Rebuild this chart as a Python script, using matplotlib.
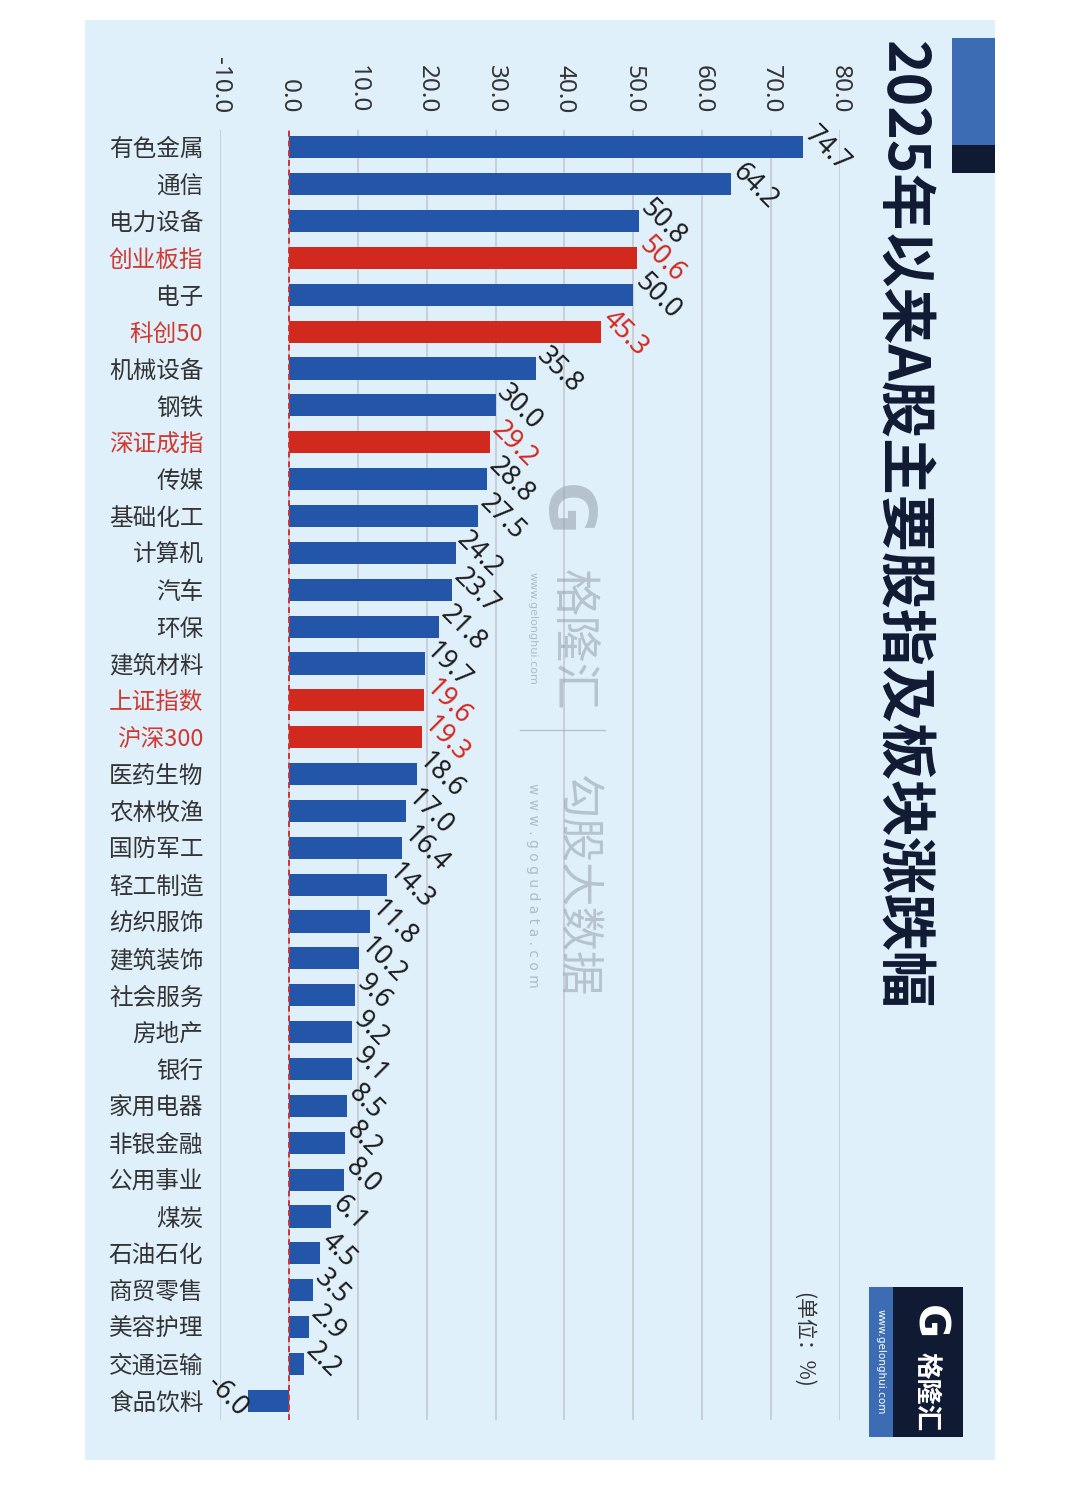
import numpy as np
import matplotlib
matplotlib.use("Agg")
from matplotlib import pyplot as plt
from matplotlib.patches import Rectangle

plt.rcParams['font.family'] = ['Noto Sans CJK SC', 'DejaVu Sans']

# data (2025年以来涨跌幅, %)
cats = ['有色金属', '通信', '电力设备', '创业板指', '电子', '科创50', '机械设备', '钢铁',
        '深证成指', '传媒', '基础化工', '计算机', '汽车', '环保', '建筑材料', '上证指数',
        '沪深300', '医药生物', '农林牧渔', '国防军工', '轻工制造', '纺织服饰', '建筑装饰',
        '社会服务', '房地产', '银行', '家用电器', '非银金融', '公用事业', '煤炭', '石油石化',
        '商贸零售', '美容护理', '交通运输', '食品饮料']
values = [74.7, 64.2, 50.8, 50.6, 50.0, 45.3, 35.8, 30.0, 29.2, 28.8, 27.5, 24.2, 23.7,
          21.8, 19.7, 19.6, 19.3, 18.6, 17.0, 16.4, 14.3, 11.8, 10.2, 9.6, 9.2, 9.1, 8.5,
          8.2, 8.0, 6.1, 4.5, 3.5, 2.9, 2.2, -6.0]
indices = ['创业板指', '科创50', '深证成指', '上证指数', '沪深300']
xticks = [-10, 0, 10, 20, 30, 40, 50, 60, 70, 80]

BLUE = '#2356a8'
RED = '#d2291f'
NAVY = '#111a33'
W, H = 1080, 1495

fig = plt.figure(figsize=(W / 100, H / 100), dpi=100)
fig.patch.set_facecolor('white')

def fx(px):
    return px / W

def fy(py):
    return 1 - py / H

# light blue panel
fig.patches.append(Rectangle((fx(85), fy(1460)), fx(910), 1440 / H, transform=fig.transFigure,
                             facecolor='#e0f0fb', edgecolor='none', zorder=-2))
# top right decoration
fig.patches.append(Rectangle((fx(952), fy(145)), fx(43), 107 / H, transform=fig.transFigure,
                             facecolor='#3c6cb4', edgecolor='none', zorder=-1))
fig.patches.append(Rectangle((fx(952), fy(173)), fx(43), 28 / H, transform=fig.transFigure,
                             facecolor=NAVY, edgecolor='none', zorder=-1))
# logo box bottom right
fig.patches.append(Rectangle((fx(869), fy(1437)), fx(24), 150 / H, transform=fig.transFigure,
                             facecolor='#3c6cb4', edgecolor='none', zorder=-1))
fig.patches.append(Rectangle((fx(893), fy(1437)), fx(70), 150 / H, transform=fig.transFigure,
                             facecolor=NAVY, edgecolor='none', zorder=-1))
fig.text(fx(881), fy(1362), 'www.gelonghui.com', rotation=-90, ha='center', va='center',
         color='white', fontsize=7.5, family=['DejaVu Sans'])
fig.text(fx(928), fy(1322), 'G', rotation=-90, ha='center', va='center',
         color='white', fontsize=30, weight='bold', family=['DejaVu Sans'])
fig.text(fx(926), fy(1392), '格隆汇', rotation=-90, ha='center', va='center',
         color='white', fontsize=19, weight='bold')

# title
fig.text(fx(901), fy(525), '2025年以来A股主要股指及板块涨跌幅', rotation=-90, ha='center',
         va='center', fontsize=41, weight='bold', color=NAVY)
fig.text(fx(803), fy(1340), '(单位：%)', rotation=-90, ha='center', va='center',
         fontsize=15, color='#333333')

# watermark
wm = '#9aa6b2'
fig.text(fx(564), fy(510), 'G', rotation=-90, ha='center', va='center', color=wm, alpha=0.6,
         fontsize=46, weight='bold', family=['DejaVu Sans'])
fig.text(fx(572), fy(640), '格隆汇', rotation=-90, ha='center', va='center', color=wm,
         alpha=0.6, fontsize=34)
fig.text(fx(533), fy(628), 'www.gelonghui.com', rotation=-90, ha='center', va='center',
         color=wm, alpha=0.7, fontsize=8, family=['DejaVu Sans'])
fig.lines.append(plt.Line2D([fx(520), fx(605)], [fy(730), fy(730)], transform=fig.transFigure,
                            color=wm, alpha=0.6, lw=1))
fig.text(fx(577), fy(885), '勾股大数据', rotation=-90, ha='center', va='center', color=wm,
         alpha=0.6, fontsize=32)
fig.text(fx(533), fy(885), 'w w w . g o g u d a t a . c o m', rotation=-90, ha='center',
         va='center', color=wm, alpha=0.7, fontsize=10, family=['DejaVu Sans'])

# chart
ax = fig.add_axes([fx(220), fy(1420), fx(620), 1290 / H])
ax.set_zorder(2)
ax.set_facecolor('none')
n = len(cats)
y = np.arange(n)
colors = [RED if c in indices else BLUE for c in cats]
ax.barh(y, values, height=0.6, color=colors, zorder=3)
ax.axvline(0, color='#d43030', ls=(0, (3, 2)), lw=1.4, zorder=4)
ax.set_xlim(-10, 80)
ax.set_ylim(n - 0.5 + 0.02, -0.47)
ax.grid(axis='x', color='#c6ccd3', lw=1.3, zorder=1)
ax.set_axisbelow(True)
for s in ax.spines.values():
    s.set_visible(False)

ax.xaxis.tick_top()
ax.set_xticks(xticks)
ax.set_xticklabels([f'{t:.1f}' for t in xticks], rotation=-90, fontsize=17.5,
                   color='#333333', family=['Noto Sans'])
ax.tick_params(axis='x', length=0, pad=12)
ax.set_yticks(y)
ax.set_yticklabels(cats, fontsize=17, color='#333333', weight='medium')
ax.tick_params(axis='y', length=0, pad=12)
for lab, c in zip(ax.get_yticklabels(), cats):
    if c in indices:
        lab.set_color('#cf3a30')

for i, (c, v) in enumerate(zip(cats, values)):
    tc = RED if c in indices else '#1c1c1c'
    if v >= 0:
        ax.text(v + 0.8, i - 0.45, f'{v:.1f}', rotation=-45, rotation_mode='anchor',
                ha='left', va='center', fontsize=19, color=tc, family=['Noto Sans'],
                zorder=5)
    else:
        ax.text(v - 0.6, i + 0.3, f'{v:.1f}', rotation=-45, rotation_mode='anchor',
                ha='right', va='center', fontsize=19, color=tc, family=['Noto Sans'],
                zorder=5)

fig.savefig('out.png', dpi=100)
